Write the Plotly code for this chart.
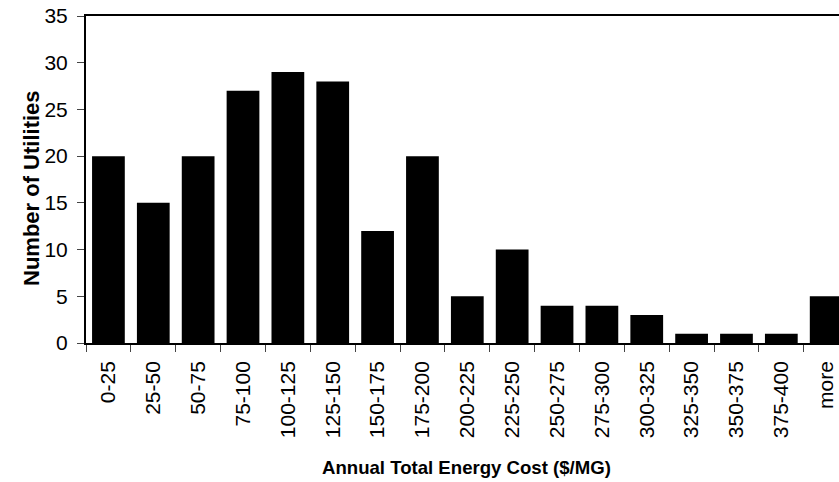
import plotly.graph_objects as go

categories = ["0-25", "25-50", "50-75", "75-100", "100-125", "125-150", "150-175",
              "175-200", "200-225", "225-250", "250-275", "275-300", "300-325",
              "325-350", "350-375", "375-400", "more"]
counts = [20, 15, 20, 27, 29, 28, 12, 20, 5, 10, 4, 4, 3, 1, 1, 1, 5]

W, H = 839, 482
L, T = 86, 16
BOTTOM = 343
B = H - BOTTOM
plot_w = W - L
plot_h = BOTTOM - T
FONT = "Liberation Sans, Arial, sans-serif"

fig = go.Figure(go.Bar(x=categories, y=counts, marker=dict(color="black", line=dict(width=0))))

def px_to_paper_x(px):
    return (px - L) / plot_w

def px_to_paper_y(py):
    return (BOTTOM - py) / plot_h

fig.update_layout(
    width=W, height=H,
    margin=dict(l=L, r=0, t=T, b=B, pad=0),
    paper_bgcolor="white", plot_bgcolor="white",
    bargap=0.27,
    showlegend=False,
    font=dict(family=FONT, color="black", size=21),
    xaxis=dict(
        type="category",
        range=[-0.5, 16.5 - (848.6 - 839) / 44.8],
        showline=True, linecolor="black", linewidth=1.5, mirror=True,
        ticks="outside", ticklen=7, tickwidth=1, tickcolor="#444",
        tickson="boundaries",
        tickangle=-90,
        tickfont=dict(family=FONT, size=21, color="black"),
        ticklabelstandoff=8,
        ticklabeloverflow="allow",
        showgrid=False, zeroline=False,
    ),
    yaxis=dict(
        range=[0, 35], dtick=5,
        showline=True, linecolor="black", linewidth=2,
        ticks="outside", ticklen=7, tickwidth=1, tickcolor="#444",
        tickfont=dict(family=FONT, size=21, color="black"),
        ticklabelstandoff=5,
        ticklabeloverflow="allow",
        showgrid=False, zeroline=False,
    ),
    annotations=[
        dict(text="<b>Number of Utilities</b>", xref="paper", yref="paper",
             x=px_to_paper_x(31), y=px_to_paper_y(188), textangle=-90,
             xanchor="center", yanchor="middle", showarrow=False,
             font=dict(family=FONT, size=22, color="black")),
        dict(text="<b>Annual Total Energy Cost ($/MG)</b>", xref="paper", yref="paper",
             x=px_to_paper_x(466), y=px_to_paper_y(467),
             xanchor="center", yanchor="middle", showarrow=False,
             font=dict(family=FONT, size=18.6, color="black")),
    ],
)

fig.write_html(
    "out.html",
    config={"displayModeBar": False},
    post_script="document.body.style.margin='0';document.body.style.overflow='hidden';",
)
